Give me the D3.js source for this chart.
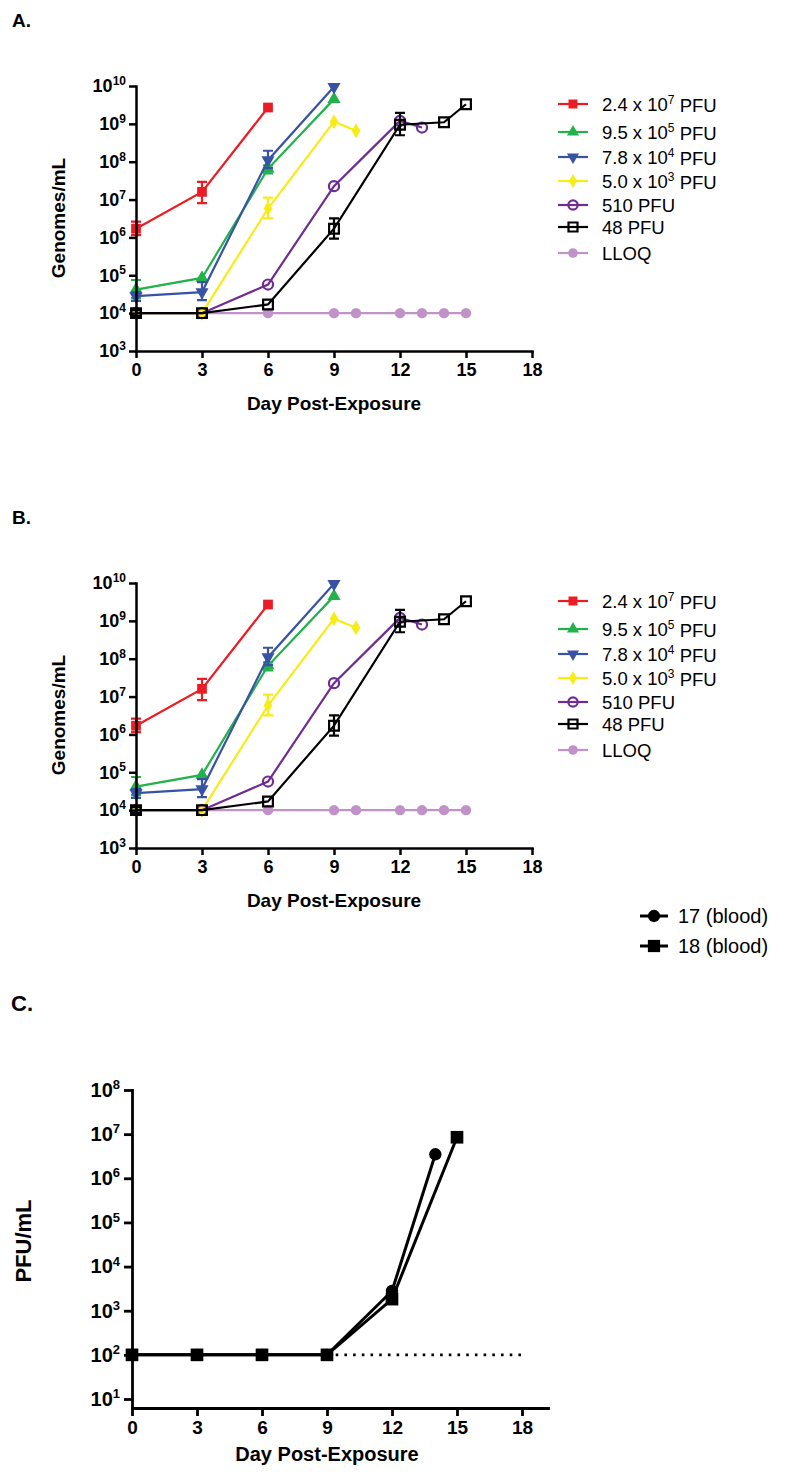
<!DOCTYPE html>
<html>
<head>
<meta charset="utf-8">
<script src="https://cdnjs.cloudflare.com/ajax/libs/d3/7.8.5/d3.min.js"></script>
<style>
  body { margin: 0; background: #fff; }
  svg { font-family: "Liberation Sans", Arial, sans-serif; }
</style>
</head>
<body>
<svg width="800" height="1477"></svg>
<script>
// ---- data, panels A and B (same data): [day, mean, low, high]
var dose24e7 = [[0, 1.7e6, 1.15e6, 2.6e6], [3, 1.6e7, 8.1e6, 2.95e7], [6, 2.7e9]];
var dose95e5 = [[0, 4.2e4, 2.5e4, 7.5e4], [3, 8.5e4], [6, 6.5e7, 4.9e7, 8e7], [9, 4.5e9]];
var dose78e4 = [[0, 2.8e4, 2.1e4, 3.6e4], [3, 3.6e4, 2.2e4, 6.6e4], [6, 1.1e8, 6.8e7, 1.95e8], [9, 9.5e9]];
var dose50e3 = [[0, 1e4], [3, 1e4], [6, 5.8e6, 3.2e6, 1.12e7], [9, 1.14e9], [10, 6.6e8]];
var dose510 = [[0, 1e4], [3, 1e4], [6, 5.7e4], [9, 2.26e7], [12, 1.2e9], [13, 8e8]];
var dose48 = [[0, 1e4, 8.5e3, 1.2e4], [3, 1e4], [6, 1.7e4], [9, 1.7e6, 9.3e5, 3.2e6], [12, 9.5e8, 5e8, 1.95e9], [14, 1.1e9], [15, 3.3e9]];
var lloqDays = [0, 3, 6, 9, 10, 12, 13, 14, 15];
var lloqValue = 1e4;

var doseLabels = [["2.4 x 10", "7", " PFU"], ["9.5 x 10", "5", " PFU"], ["7.8 x 10", "4", " PFU"],
                  ["5.0 x 10", "3", " PFU"], ["510 PFU", "", ""], ["48 PFU", "", ""], ["LLOQ", "", ""]];
var doseColors = ["#ec1c24", "#22b24c", "#3853a4", "#f7ec16", "#6f2c91", "#000000", "#c192c7"];
var doseShapes = ["square", "triangle", "triangleDown", "diamond", "circleOpen", "squareOpen", "circle"];

var dayTicks = [0, 3, 6, 9, 12, 15, 18];
var genomeExps = [3, 4, 5, 6, 7, 8, 9, 10];

// ---- data, panel C
var blood17 = [[0, 100], [3, 100], [6, 100], [9, 100], [12, 2800], [14, 3.5e6]];
var blood18 = [[0, 100], [3, 100], [6, 100], [9, 100], [12, 1830], [15, 8.5e6]];
var bloodLabels = ["17 (blood)", "18 (blood)"];
var pfuExps = [1, 2, 3, 4, 5, 6, 7, 8];
var pfuLloq = 100;
var lloqSpan = [9, 18];

var svg = d3.select("svg");

function marker(g, shape, x, y, color, scale) {
  scale = scale || 1;
  var open = shape == "circleOpen" || shape == "squareOpen";
  var type = d3.symbolSquare, size = 95, rot = 0;
  if (shape == "triangle") { type = d3.symbolTriangle; size = 75; }
  if (shape == "triangleDown") { type = d3.symbolTriangle; size = 75; rot = 180; }
  if (shape == "diamond") { type = d3.symbolDiamond; size = 65; }
  if (shape == "circle") { type = d3.symbolCircle; size = 85; }
  if (shape == "circleOpen") { type = d3.symbolCircle; size = 80; }
  if (shape == "squareOpen") { size = 95; }
  g.append("path")
    .attr("d", d3.symbol().type(type).size(size * scale)())
    .attr("transform", "translate(" + x + "," + y + ") rotate(" + rot + ")")
    .attr("fill", open ? "none" : color)
    .attr("stroke", open ? color : "none")
    .attr("stroke-width", 2.2);
}

function supLabel(text, base, exp, rest, supSize) {
  text.append("tspan").text(base);
  if (exp) {
    text.append("tspan").attr("font-size", supSize).attr("dy", "-0.6em").text(exp);
    if (rest) text.append("tspan").attr("dy", "0.45em").text(rest);
  }
}

function drawGenomePanel(top, letter) {
  var x = d3.scaleLinear().domain([0, 18]).range([136, 532]);
  var y = d3.scaleLog().domain([1e3, 1e10]).range([top + 351, top + 86]);
  var g = svg.append("g");

  g.append("text").attr("x", 12).attr("y", top + 27)
    .attr("font-size", 19).attr("font-weight", "bold").text(letter);

  var series = [dose24e7, dose95e5, dose78e4, dose50e3, dose510, dose48];
  var line = d3.line().x(function(d) { return x(d[0]); }).y(function(d) { return y(d[1]); });

  // LLOQ underneath
  g.append("path").datum(lloqDays.map(function(d) { return [d, lloqValue]; }))
    .attr("d", line).attr("fill", "none").attr("stroke", doseColors[6]).attr("stroke-width", 2.2);
  lloqDays.forEach(function(d) { marker(g, "circle", x(d), y(lloqValue), doseColors[6]); });

  series.forEach(function(s, i) {
    var c = doseColors[i];
    g.append("path").datum(s).attr("d", line)
      .attr("fill", "none").attr("stroke", c).attr("stroke-width", 2.2);
    s.forEach(function(d) {
      if (d.length > 2) {
        var px = x(d[0]);
        g.append("path")
          .attr("d", "M" + px + "," + y(d[2]) + "V" + y(d[3]) +
            "M" + (px - 5) + "," + y(d[2]) + "H" + (px + 5) +
            "M" + (px - 5) + "," + y(d[3]) + "H" + (px + 5))
          .attr("stroke", c).attr("stroke-width", 2.2).attr("fill", "none");
      }
      marker(g, doseShapes[i], x(d[0]), y(d[1]), c);
    });
  });

  // axes
  var ya = g.append("g").attr("transform", "translate(136,0)")
    .call(d3.axisLeft(y).tickValues(genomeExps.map(function(e) { return Math.pow(10, e); }))
      .tickSize(7).tickSizeOuter(0).tickPadding(3));
  ya.selectAll(".tick text").each(function(v) {
    var t = d3.select(this).text(null);
    supLabel(t, "10", String(Math.round(Math.log10(v))), "", "12px");
  });
  var xa = g.append("g").attr("transform", "translate(0," + (top + 351) + ")")
    .call(d3.axisBottom(x).tickValues(dayTicks).tickSize(7).tickSizeOuter(0).tickPadding(5));
  [ya, xa].forEach(function(a) {
    a.attr("font-family", null).attr("font-size", 18).attr("font-weight", "bold");
    a.selectAll("path, line").attr("stroke", "#000").attr("stroke-width", 2.5);
    a.select(".domain").attr("stroke-linecap", "square");
  });

  g.append("text").attr("x", 334).attr("y", top + 410).attr("text-anchor", "middle")
    .attr("font-size", 19).attr("font-weight", "bold").text("Day Post-Exposure");
  g.append("text").attr("transform", "translate(65," + (top + 218) + ") rotate(-90)")
    .attr("text-anchor", "middle").attr("font-size", 19).attr("font-weight", "bold").text("Genomes/mL");

  // legend
  var rows = [104, 132, 157, 181, 205, 227, 253];
  doseLabels.forEach(function(l, i) {
    var ry = top + rows[i];
    g.append("line").attr("x1", 558).attr("x2", 588).attr("y1", ry).attr("y2", ry)
      .attr("stroke", doseColors[i]).attr("stroke-width", 2.2);
    marker(g, doseShapes[i], 573, ry, doseColors[i], 0.85);
    var t = g.append("text").attr("x", 602).attr("y", ry + 7).attr("font-size", 18.5);
    supLabel(t, l[0], l[1], l[2], "12px");
  });
}

drawGenomePanel(0, "A.");
drawGenomePanel(497, "B.");

// ---- panel C
(function() {
  var x = d3.scaleLinear().domain([0, 19.2]).range([132, 548]);
  var y = d3.scaleLog().domain([Math.pow(10, 0.796), 1e8]).range([1408, 1090]);
  var g = svg.append("g");

  g.append("text").attr("x", 11).attr("y", 1011)
    .attr("font-size", 22).attr("font-weight", "bold").text("C.");

  g.append("line").attr("x1", x(lloqSpan[0])).attr("x2", x(lloqSpan[1]))
    .attr("y1", y(pfuLloq)).attr("y2", y(pfuLloq))
    .attr("stroke", "#000").attr("stroke-width", 2.6).attr("stroke-dasharray", "2.6,6.1");

  var line = d3.line().x(function(d) { return x(d[0]); }).y(function(d) { return y(d[1]); });
  var shapes = ["circle", "square"];
  [blood17, blood18].forEach(function(s, i) {
    g.append("path").datum(s).attr("d", line)
      .attr("fill", "none").attr("stroke", "#000").attr("stroke-width", 3);
    s.forEach(function(d) {
      var size = shapes[i] == "circle" ? 120 : 160;
      g.append("path")
        .attr("d", d3.symbol().type(shapes[i] == "circle" ? d3.symbolCircle : d3.symbolSquare).size(size)())
        .attr("transform", "translate(" + x(d[0]) + "," + y(d[1]) + ")");
    });
  });

  var ya = g.append("g").attr("transform", "translate(132,0)")
    .call(d3.axisLeft(y).tickValues(pfuExps.map(function(e) { return Math.pow(10, e); }))
      .tickSize(8).tickSizeOuter(0).tickPadding(4));
  ya.selectAll(".tick text").each(function(v) {
    var t = d3.select(this).text(null);
    supLabel(t, "10", String(Math.round(Math.log10(v))), "", "13px");
  });
  var xa = g.append("g").attr("transform", "translate(0,1408)")
    .call(d3.axisBottom(x).tickValues(dayTicks).tickSize(8).tickSizeOuter(0).tickPadding(5));
  [ya, xa].forEach(function(a) {
    a.attr("font-family", null).attr("font-size", 19).attr("font-weight", "bold");
    a.selectAll("path, line").attr("stroke", "#000").attr("stroke-width", 2.8);
    a.select(".domain").attr("stroke-linecap", "square");
  });
  ya.attr("font-size", 20);

  g.append("text").attr("x", 327).attr("y", 1461).attr("text-anchor", "middle")
    .attr("font-size", 20).attr("font-weight", "bold").text("Day Post-Exposure");
  g.append("text").attr("transform", "translate(31,1241) rotate(-90)")
    .attr("text-anchor", "middle").attr("font-size", 22).attr("font-weight", "bold").text("PFU/mL");

  var rows = [916, 946];
  bloodLabels.forEach(function(l, i) {
    g.append("line").attr("x1", 640).attr("x2", 668).attr("y1", rows[i]).attr("y2", rows[i])
      .attr("stroke", "#000").attr("stroke-width", 3);
    g.append("path")
      .attr("d", d3.symbol().type(i == 0 ? d3.symbolCircle : d3.symbolSquare).size(i == 0 ? 120 : 150)())
      .attr("transform", "translate(654," + rows[i] + ")");
    g.append("text").attr("x", 678).attr("y", rows[i] + 7).attr("font-size", 20).text(l);
  });
})();
</script>
</body>
</html>
